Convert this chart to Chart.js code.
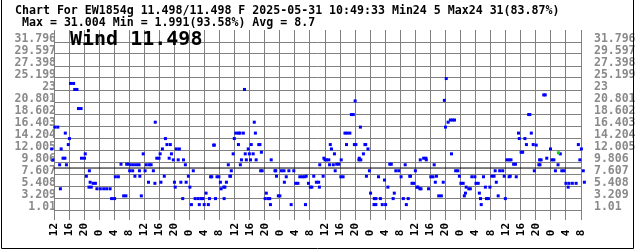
<!DOCTYPE html>
<html>
<head>
<meta charset="utf-8">
<script src="https://cdn.jsdelivr.net/npm/chart.js@4/dist/chart.umd.min.js"></script>
<style>
  html, body { margin: 0; padding: 0; background: #fff; }
  canvas { display: block; }
</style>
</head>
<body>
<canvas id="c" width="636" height="251"></canvas>
<script>
// ---- texts ----
const titleLine1 = 'Chart For EW1854g 11.498/11.498 F 2025-05-31 10:49:33 Min24 5 Max24 31(83.87%)';
const titleLine2 = 'Max = 31.004 Min = 1.991(93.58%) Avg = 8.7';
const seriesLabel = 'Wind 11.498';

// ---- summary values ----
const avgValue = 8.7;
const currentHour = 134.0;     // hours after 12:00 on the first day
const currentValue = 11.498;

// ---- axes ----
const xMinHour = 0, xMaxHour = 140;
const xTickHours = [0,4,8,12,16,20,24,28,32,36,40,44,48,52,56,60,64,68,72,76,80,84,88,92,96,100,104,108,112,116,120,124,128,132,136,140];
const xTickLabels = ['12','16','20','0','4','8','12','16','20','0','4','8','12','16','20','0','4','8','12','16','20','0','4','8','12','16','20','0','4','8','12','16','20','0','4','8'];
const yMin = 1.01, yMax = 33.995;
const yTicks = [1.01,3.209,5.408,7.607,9.806,12.005,14.204,16.403,18.602,20.801,23,25.199,27.398,29.597,31.796];

// ---- readings: hours after 12:00 on the first day, wind speed ----
const hours = [
  -0.6,-0.3,0.2,1.0,1.5,1.7,1.9,2.4,2.9,3.0,3.3,3.8,4.1,
  4.4,5.2,5.5,6.1,6.5,7.2,7.3,8.1,8.3,8.6,9.3,9.4,9.6,9.9,10.4,11.0,
  11.4,12.3,13.2,14.0,14.9,15.3,16.1,16.3,17.1,17.8,18.5,19.1,19.3,19.8,
  20.3,21.1,21.9,22.6,20.1,20.9,22.7,21.5,22.8,23.2,
  23.7,24.2,24.5,25.3,25.8,25.1,26.4,26.8,26.9,27.3,27.9,28.4,28.2,28.8,
  29.3,29.6,30.0,30.9,30.6,31.2,31.7,32.0,32.2,32.5,33.3,33.0,33.7,34.2,34.4,
  34.9,35.7,35.1,36.1,37.0,36.5,37.5,38.3,39.1,39.6,38.6,39.9,40.4,41.0,41.3,
  41.6,41.9,42.4,42.6,42.9,43.3,43.8,44.2,44.4,45.1,45.4,45.2,45.8,46.3,
  46.7,46.9,47.1,47.6,47.9,48.3,49.0,49.4,49.0,50.3,50.6,49.8,49.5,50.8,
  51.1,51.6,51.9,52.2,52.4,52.9,53.2,53.5,53.7,54.4,54.7,55.1,54.9,55.3,
  56.1,56.9,57.3,56.4,57.5,57.7,59.1,58.7,58.9,59.6,60.0,60.4,61.1,61.2,
  61.7,62.4,63.7,64.2,64.8,63.0,65.3,66.0,66.6,66.8,67.0,67.6,68.1,68.5,69.0,69.7,70.3,70.6,
  71.5,70.5,72.0,72.4,71.7,73.4,73.7,73.0,73.2,74.2,74.5,74.7,75.1,75.7,
  76.3,76.2,76.8,77.3,77.9,78.6,77.7,79.0,79.5,80.0,79.8,80.2,81.4,81.0,81.5,81.1,
  82.2,82.6,82.8,83.4,83.0,83.8,
  84.1,85.1,85.5,85.0,85.5,86.2,86.7,87.2,88.1,87.8,88.7,89.2,89.6,90.1,90.4,
  90.8,91.6,92.2,92.8,93.3,93.6,94.1,94.5,94.7,95.1,95.6,96.0,96.4,96.7,97.2,97.5,
  97.3,98.2,98.8,98.9,99.5,
  101.0,100.1,100.7,101.6,101.3,102.2,102.9,103.4,103.7,104.0,104.2,104.7,105.3,105.9,106.4,
  105.6,106.7,107.3,107.7,108.1,108.7,109.5,109.3,109.0,110.2,110.6,111.0,111.8,112.1,112.7,
  113.0,113.3,113.5,114.1,114.6,114.9,115.4,115.8,116.3,116.9,117.2,117.5,118.0,118.4,119.2,
  119.6,119.9,120.3,120.9,121.4,120.9,121.2,122.1,122.6,122.8,123.4,123.6,124.1,124.5,
  125.1,125.5,126.1,126.4,126.8,127.3,127.6,128.1,129.0,129.4,128.8,129.1,130.1,130.5,
  130.9,131.9,132.3,132.8,133.2,133.9,134.5,134.9,135.5,136.0,136.8,137.7,138.7,136.6,
  139.3,139.7,140.1,140.6,140.9,141.2,141.5,142.1,142.5
];
const speeds = [
  12.2,10.2,16.2,16.2,9.3,4.9,12.2,10.5,10.5,15.1,9.3,13.0,14.1,
  24.2,24.2,23.1,23.1,19.6,19.6,10.5,10.5,11.3,7.2,5.2,8.2,6.1,5.2,5.9,5.9,
  4.9,4.9,4.9,4.9,4.9,3.1,3.1,7.1,7.1,9.4,3.6,3.6,9.4,9.4,
  9.3,9.3,9.3,9.3,8.2,8.2,8.2,7.2,7.2,3.6,
  11.3,8.2,9.3,9.3,9.3,6.1,8.2,5.9,17.1,10.5,10.5,6.1,11.3,12.2,
  7.2,14.1,13.0,13.0,10.5,11.3,10.2,6.1,5.2,12.2,12.2,10.2,6.1,3.1,10.2,
  9.3,7.2,6.1,5.2,8.2,2.0,3.1,3.1,3.1,3.1,2.0,2.0,4.1,2.0,3.1,
  7.1,7.1,12.9,12.9,3.1,7.1,7.1,6.1,4.9,5.2,5.2,3.1,6.1,9.3,
  7.2,7.2,8.2,11.3,14.1,15.1,15.1,15.1,13.0,15.1,23.1,10.2,9.3,11.3,
  10.2,12.2,11.3,10.2,13.0,11.3,17.1,15.1,10.2,13.0,13.0,11.6,8.2,8.2,
  3.1,3.1,3.1,4.1,2.0,10.2,7.2,8.2,8.2,3.6,3.6,8.2,8.2,6.1,
  7.1,8.2,8.2,5.9,5.9,2.0,7.1,7.1,7.1,2.0,7.2,5.9,5.2,5.2,7.2,6.1,6.1,9.3,
  7.2,5.2,10.2,10.2,10.5,13.0,12.2,10.2,9.3,9.3,11.3,8.2,9.4,9.4,
  10.2,7.1,7.1,15.1,15.1,15.1,13.0,18.5,18.5,21.0,13.0,13.0,16.2,10.2,10.2,10.5,
  11.3,13.0,13.0,12.2,7.2,8.2,
  4.1,3.1,3.1,2.0,2.0,7.1,3.1,2.0,2.0,6.5,5.2,9.4,9.4,3.1,4.1,
  8.2,8.2,7.1,3.1,9.3,2.0,3.1,7.2,7.2,5.9,5.9,8.2,5.2,5.2,4.9,4.9,
  10.2,10.5,10.5,10.2,4.9,
  9.3,7.1,7.1,7.2,6.1,3.6,3.6,6.1,21.1,16.2,25.1,17.1,17.5,17.5,17.5,
  11.3,8.2,8.2,7.2,5.9,5.9,5.2,4.1,3.6,4.9,4.9,7.1,7.1,5.9,5.9,
  4.1,3.1,2.0,7.1,5.2,3.1,3.1,5.2,7.2,7.2,8.2,6.1,3.6,8.2,8.2,
  7.2,3.1,10.2,10.2,10.2,7.1,7.2,9.4,9.4,7.1,15.1,14.1,11.6,11.6,
  14.1,13.0,18.5,18.5,15.1,13.0,8.2,12.9,10.2,10.2,9.3,9.3,22.1,22.1,
  10.5,12.2,10.2,10.2,8.2,9.3,11.3,8.2,8.2,5.9,5.9,5.9,5.9,5.2,
  13.0,10.2,12.2,8.2,6.1,14.1,31.0,11.6,11.6
];

const points = hours.map((h, i) => ({ x: h, y: speeds[i] }));

const monoFont = '"DejaVu Sans Mono", monospace';

const decorPlugin = {
  id: 'decor',
  afterDraw(chart) {
    const c = chart.ctx;
    c.save();
    c.fillStyle = '#000';
    c.textBaseline = 'alphabetic';
    c.textAlign = 'left';
    c.font = 'bold 11.6px ' + monoFont;
    c.fillText(titleLine1, 15, 14);
    c.fillText(titleLine2, 22, 26);
    c.font = 'bold 20px ' + monoFont;
    c.fillText(seriesLabel, 70, 45);
    // frame
    c.strokeStyle = '#000';
    c.lineWidth = 1;
    c.beginPath();
    c.moveTo(1.5, 0); c.lineTo(1.5, 248.5); c.lineTo(633.5, 248.5); c.lineTo(633.5, 0);
    c.stroke();
    c.restore();
  }
};

const tickFontY = { family: monoFont, size: 11.5, weight: 'bold' };

new Chart(document.getElementById('c'), {
  type: 'scatter',
  data: {
    datasets: [
      { data: [{ x: currentHour, y: currentValue }], backgroundColor: '#00dd00', borderWidth: 0,
        pointStyle: 'rect', pointRadius: 2.13, clip: false, order: 0 },
      { data: points, backgroundColor: '#0000ff', borderWidth: 0,
        pointStyle: 'rect', pointRadius: 2.13, clip: false, order: 1 },
      { type: 'line', data: [{ x: xMinHour, y: avgValue }, { x: xMaxHour, y: avgValue }],
        borderColor: '#000', borderWidth: 1, pointRadius: 0, showLine: true, clip: false, order: 2 }
    ]
  },
  options: {
    responsive: false,
    animation: false,
    devicePixelRatio: 1,
    layout: { padding: { top: 30, left: 0, right: 0, bottom: 0 } },
    plugins: { legend: { display: false }, tooltip: { enabled: false }, title: { display: false } },
    scales: {
      x: {
        type: 'linear', position: 'bottom', bounds: 'data',
        afterDataLimits: s => { s.min = xMinHour; s.max = xMaxHour; },
        afterBuildTicks: s => { s.ticks = xTickHours.map(v => ({ value: v })); },
        afterFit: s => { s.height = 41; },
        grid: { color: '#808080', lineWidth: 1, drawTicks: true, tickLength: 10 },
        border: { display: false },
        ticks: {
          autoSkip: false, minRotation: 90, maxRotation: 90, padding: 3,
          color: '#000', font: { family: monoFont, size: 11, weight: 'bold' },
          callback: (v, i) => xTickLabels[i].length < 2 ? xTickLabels[i] + ' ' : xTickLabels[i]
        }
      },
      y: {
        type: 'linear', position: 'left', bounds: 'data',
        afterDataLimits: s => { s.min = yMin; s.max = yMax; },
        afterBuildTicks: s => { s.ticks = yTicks.map(v => ({ value: v })); },
        afterFit: s => { s.width = 54; },
        grid: { color: '#808080', lineWidth: 1, drawTicks: false },
        border: { display: false },
        ticks: { autoSkip: false, padding: -2, labelOffset: -3, color: '#8a8a8a', font: tickFontY,
          callback: (v, i) => String(yTicks[i]) }
      },
      y2: {
        type: 'linear', position: 'right', bounds: 'data',
        afterDataLimits: s => { s.min = yMin; s.max = yMax; },
        afterBuildTicks: s => { s.ticks = yTicks.map(v => ({ value: v })); },
        afterFit: s => { s.width = 55; },
        grid: { display: false, drawTicks: false },
        border: { display: false },
        ticks: { autoSkip: false, padding: 13, labelOffset: -3, color: '#8a8a8a', font: tickFontY,
          callback: (v, i) => String(yTicks[i]) }
      }
    }
  },
  plugins: [decorPlugin]
});
</script>
</body>
</html>
